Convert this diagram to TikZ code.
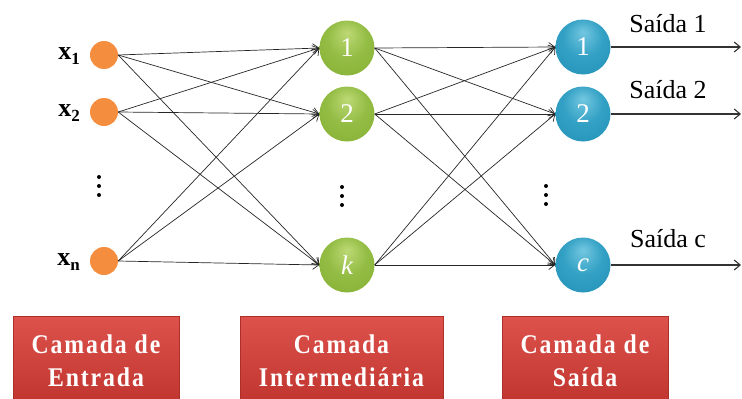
\documentclass[tikz,border=0pt]{standalone}
\usepackage{fontspec}
\setmainfont{Liberation Serif}
\newfontfamily\boxfont[LetterSpace=7, FakeStretch=0.88]{Liberation Serif}
\usetikzlibrary{arrows.meta}
\definecolor{orangeC}{RGB}{244,142,62}
\definecolor{boxTop}{RGB}{222,82,76}
\definecolor{boxBot}{RGB}{192,52,47}
\pgfdeclareradialshading{greenball}{\pgfpoint{0bp}{14bp}}{rgb(0bp)=(0.74,0.85,0.46); rgb(18bp)=(0.58,0.74,0.27); rgb(38bp)=(0.52,0.69,0.20); rgb(50bp)=(0.44,0.60,0.14)}
\pgfdeclareradialshading{blueball}{\pgfpoint{0bp}{14bp}}{rgb(0bp)=(0.45,0.78,0.88); rgb(18bp)=(0.20,0.63,0.77); rgb(38bp)=(0.14,0.57,0.72); rgb(50bp)=(0.08,0.47,0.62)}
\tikzset{
  inp/.style={circle, fill=orangeC, minimum size=28pt, inner sep=0pt},
  hid/.style={circle, shading=greenball, minimum size=55pt, inner sep=0pt, text=white, font=\fontsize{27}{27}\selectfont},
  outn/.style={circle, shading=blueball, minimum size=55pt, inner sep=0pt, text=white, font=\fontsize{27}{27}\selectfont},
  conn/.style={draw=black!85, line width=0.7pt, -{Straight Barb[length=6pt,width=9pt]}},
  outarr/.style={draw=black!80, line width=1.1pt, -{Straight Barb[length=6pt,width=10pt]}},
  inlab/.style={font=\bfseries\fontsize{26}{26}\selectfont, inner sep=0pt},
  outlab/.style={font=\fontsize{26}{26}\selectfont, inner sep=0pt},
  layerbox/.style={rectangle, top color=boxTop, bottom color=boxBot, draw=boxBot!90!black, line width=0.4pt,
     minimum height=89pt, inner sep=0pt, text=white, align=center, font=\boxfont\bfseries\fontsize{27}{33}\selectfont},
  vdot/.style={circle, fill=black, inner sep=0pt, minimum size=4pt}
}
\begin{document}
\begin{tikzpicture}[x=1pt,y=-1pt]
\useasboundingbox (0,0) rectangle (742,399);
\clip (0,0) rectangle (742,399);
% input nodes
\node[inp] (i1) at (104,55) {};
\node[inp] (i2) at (104,112) {};
\node[inp] (in) at (104,261) {};
\node[inlab, anchor=east] (li1) at (80,56) {x\raisebox{-5pt}{\fontsize{17}{17}\selectfont 1}};
\node[inlab, anchor=east] (li2) at (80,113) {x\raisebox{-5pt}{\fontsize{17}{17}\selectfont 2}};
\node[inlab, anchor=east] (lin) at (80,262) {x\raisebox{-5pt}{\fontsize{17}{17}\selectfont n}};
% hidden nodes
\node[hid] (h1) at (347,48) {1};
\node[hid] (h2) at (347,114) {2};
\node[hid] (hk) at (347,265) {\itshape k};
% output nodes
\node[outn] (o1) at (583,47) {1};
\node[outn] (o2) at (583,114) {2};
\node[outn] (oc) at (583,265) {\itshape c};
% dots
\foreach \y [count=\n] in {177,186,195} \node[vdot] (di\n) at (99,\y) {};
\foreach \y [count=\n] in {187,196,205} \node[vdot] (dh\n) at (342,\y) {};
\foreach \y [count=\n] in {186,195,204} \node[vdot] (do\n) at (546,\y) {};
% connections input -> hidden
\foreach \a in {i1,i2,in}
  \foreach \b in {h1,h2,hk}
    \draw[conn] (\a.east) -- (\b.west);
% connections hidden -> output
\foreach \a in {h1,h2,hk}
  \foreach \b in {o1,o2,oc}
    \draw[conn] (\a.east) -- (\b.west);
% outputs
\coordinate (e1) at (741,47);
\coordinate (e2) at (741,114);
\coordinate (ec) at (741,265);
\draw[outarr] (o1.east) -- (e1);
\draw[outarr] (o2.east) -- (e2);
\draw[outarr] (oc.east) -- (ec);
\node[outlab] (s1) at (668,24) {Saída 1};
\node[outlab] (s2) at (668,90) {Saída 2};
\node[outlab] (sc) at (668,239) {Saída c};
% layer boxes
\node[layerbox, minimum width=166pt] (b1) at (96,361) {Camada de\\Entrada};
\node[layerbox, minimum width=203pt] (b2) at (341.5,361) {Camada\\Intermediária};
\node[layerbox, minimum width=166pt] (b3) at (585,361) {Camada de\\Saída};
\end{tikzpicture}
\end{document}
